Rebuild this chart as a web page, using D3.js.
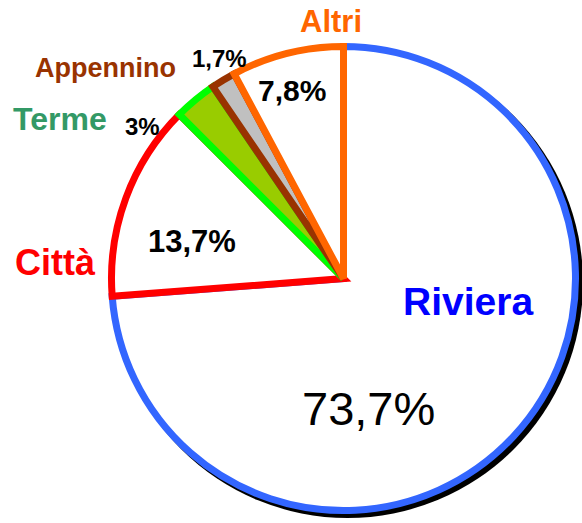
<!DOCTYPE html>
<html>
<head>
<meta charset="utf-8">
<script src="https://cdn.jsdelivr.net/npm/d3@7"></script>
<style>
  html, body { margin: 0; padding: 0; background: #ffffff; }
  svg { display: block; }
  text { font-family: "Liberation Sans", Arial, sans-serif; }
</style>
</head>
<body>
<svg id="chart" width="582" height="523"></svg>
<script>
// ---- data ----
const categories = ["Riviera", "Città", "Terme", "Appennino", "Altri"];
const values = [73.7, 13.7, 3, 1.7, 7.8];
const valueLabels = ["73,7%", "13,7%", "3%", "1,7%", "7,8%"];

// ---- style ----
const fills = ["#ffffff", "#ffffff", "#99cc00", "#c0c0c0", "#ffffff"];
const strokes = ["#3366ff", "#ff0000", "#00ff00", "#993300", "#ff6600"];
const nameColors = ["#0000ff", "#ff0000", "#339966", "#993300", "#ff6600"];

// label placements (text anchor points)
const namePos = [
  {x: 403, y: 315, size: 39},
  {x: 15, y: 275, size: 36},
  {x: 13, y: 130, size: 32},
  {x: 35, y: 77, size: 27},
  {x: 300, y: 32, size: 31}
];
const valuePos = [
  {x: 302, y: 425, size: 47, weight: "normal"},
  {x: 148, y: 252, size: 31, weight: "bold"},
  {x: 125, y: 135, size: 24, weight: "bold"},
  {x: 192, y: 67, size: 24, weight: "bold"},
  {x: 258, y: 101, size: 30, weight: "bold"}
];

const cx = 343.5, cy = 278.5, R = 232;
const svg = d3.select("#chart");

const data = categories.map((c, i) => ({name: c, value: values[i], i}));
const pie = d3.pie().sort(null).value(d => d.value).startAngle(0).endAngle(2 * Math.PI);
const arc = d3.arc().innerRadius(0).outerRadius(R);
const arcs = pie(data);

// drop shadow
svg.append("circle")
  .attr("cx", cx + 4).attr("cy", cy + 4)
  .attr("r", R + 3.5)
  .attr("fill", "#000000");

const g = svg.append("g").attr("transform", `translate(${cx},${cy})`);
g.selectAll("path.slice")
  .data(arcs)
  .join("path")
  .attr("class", "slice")
  .attr("d", arc)
  .attr("fill", d => fills[d.data.i])
  .attr("stroke", d => strokes[d.data.i])
  .attr("stroke-width", 7)
  .attr("stroke-linejoin", "miter")
  .attr("stroke-miterlimit", 3);

// category names
svg.selectAll("text.name")
  .data(data)
  .join("text")
  .attr("class", "name")
  .attr("x", d => namePos[d.i].x)
  .attr("y", d => namePos[d.i].y)
  .attr("font-size", d => namePos[d.i].size)
  .attr("font-weight", "bold")
  .attr("fill", d => nameColors[d.i])
  .text(d => d.name);

// value labels
svg.selectAll("text.val")
  .data(data)
  .join("text")
  .attr("class", "val")
  .attr("x", d => valuePos[d.i].x)
  .attr("y", d => valuePos[d.i].y)
  .attr("font-size", d => valuePos[d.i].size)
  .attr("font-weight", d => valuePos[d.i].weight)
  .attr("fill", "#000000")
  .text(d => valueLabels[d.i]);
</script>
</body>
</html>
